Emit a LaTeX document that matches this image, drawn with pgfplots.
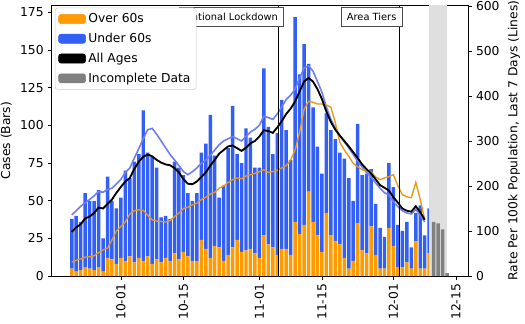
\documentclass[border=0pt]{standalone}
\usepackage{fontspec}
\setmainfont{DejaVu Sans}
\usepackage{pgfplots}
\usepackage{pgfplotstable}
\pgfplotsset{compat=1.18}

\definecolor{overc}{RGB}{255,155,0}
\definecolor{underc}{RGB}{50,95,245}
\definecolor{underl}{RGB}{112,124,240}
\definecolor{overl}{RGB}{232,152,20}
\definecolor{incc}{RGB}{128,128,128}

% daily cases: day 0 = 1 Oct
\pgfplotstableread{
d over under
-11 5 33
-10 3 37
-9 4 32
-8 6 49
-7 5 45
-6 4 46
-5 6 51
-4 3 22
-3 12 54
-2 11 39
-1 8 37
0 12 40
1 10 60
2 13 52
3 9 67
4 12 69
5 10 100
6 13 69
7 8 71
8 11 61
9 9 30
10 12 28
11 10 28
12 15 61
13 11 61
14 16 51
15 13 42
16 10 40
17 10 45
18 24 58
19 18 70
20 12 95
21 20 60
22 19 33
23 10 50
24 14 71
25 19 94
26 24 57
27 16 59
28 17 81
29 18 74
30 15 57
31 12 60
32 27 111
33 21 78
34 19 62
35 14 81
36 18 99
37 18 79
38 14 63
39 36 136
40 28 106
41 34 120
42 56 85
43 36 76
44 27 59
45 16 52
46 42 66
47 27 70
48 23 68
49 21 61
50 12 66
51 5 60
52 10 40
53 35 66
54 17 50
55 15 53
56 33 38
57 14 34
58 5 27
59 5 21
60 32 43
61 20 39
62 6 28
63 6 24
64 9 27
65 5 14
66 23 19
67 5 42
68 5 22
69 15 30
}\cases

\pgfplotstableread{
d inc
70 36
71 35
72 31
73 2
}\incomplete

% rate per 100k, last 7 days
\pgfplotstableread{
d under all over
-11 136 98 31
-10 145 108 35
-9 155 115 38
-8 163 128 42
-7 170 132 43
-6 178 140 45
-5 188 152 52
-4 186 150 58
-3 192 160 62
-2 195 170 80
-1 205 185 100
0 215 198 110
1 230 210 120
2 240 218 138
3 262 238 145
4 283 254 147
5 305 265 146
6 325 270 135
7 328 266 125
8 315 258 122
9 300 252 121
10 285 248 120
11 270 246 123
12 258 240 132
13 245 230 140
14 232 215 150
15 225 205 153
16 232 204 158
17 240 210 162
18 250 220 170
19 258 230 175
20 268 245 182
21 280 258 186
22 292 272 195
23 300 280 200
24 305 288 208
25 310 290 214
26 305 284 218
27 300 278 216
28 310 285 222
29 320 295 225
30 326 300 228
31 335 310 232
32 355 324 236
33 352 322 230
34 348 318 232
35 360 330 235
36 376 344 240
37 392 360 245
38 402 372 258
39 415 388 280
40 440 410 320
41 462 432 370
42 467 440 388
43 455 432 386
44 432 415 382
45 408 393 382
46 375 365 380
47 348 342 375
48 328 325 340
49 312 312 297
50 298 300 280
51 285 288 266
52 270 275 250
53 255 262 243
54 242 248 236
55 230 237 234
56 220 228 232
57 207 215 220
58 195 202 214
59 185 196 218
60 180 190 221
61 165 175 225
62 154 163 200
63 145 150 181
64 140 145 176
65 138 143 174
66 148 155 208
67 136 142 170
68 120 125 125
}\rates

\begin{document}
\begin{tikzpicture}
\pgfplotsset{
  every axis/.append style={
    scale only axis, width=338.5pt, height=220.3pt,
    xmin=-15.5, xmax=77.7,
    font=\fontsize{10}{12}\selectfont,
    /pgf/number format/assume math mode=true,
    tick align=outside, major tick length=3pt,
    tick style={black, line width=0.6pt},
    axis line style={line width=0.7pt},
  }
}
\begin{axis}[name=main, ybar stacked, bar width=0.78,
  ymin=0, ymax=180, ytick={0,25,...,175},
  xtick={0,14,31,45,61,75},
  xticklabels={10-01,10-15,11-01,11-15,12-01,12-15},
  xticklabel style={rotate=90, anchor=east},
  xtick pos=left, ytick pos=left,
  ylabel={Cases (Bars)}]
\fill[gray!25] (axis cs:68.9,0) rectangle (axis cs:73.1,180);
\addplot[fill=overc, draw=none] table[x=d, y=over] {\cases};
\addplot[fill=underc, draw=none] table[x=d, y=under] {\cases};
\end{axis}

\begin{axis}[hide axis, ybar, bar width=0.78, ymin=0, ymax=180]
\addplot[fill=incc, draw=none] table[x=d, y=inc] {\incomplete};
\end{axis}

\begin{axis}[ymin=0, ymax=602, ytick={0,100,...,600},
  axis y line*=right, axis x line=none,
  ylabel={Rate Per 100k Population, Last 7 Days (Lines)},
  legend cell align=left,
  legend style={at={(0.008,0.99)}, anchor=north west, draw=black!20,
    rounded corners=2pt, fill=white, inner sep=2.5pt, row sep=3pt,
    font=\fontsize{10}{12}\selectfont},
  ]
\addplot[underl, line width=1.3pt, forget plot] table[x=d, y=under] {\rates};
\addplot[overl, line width=1.1pt, forget plot] table[x=d, y=over] {\rates};
\addplot[black, line width=1.5pt, forget plot] table[x=d, y=all] {\rates};
\draw[black, line width=0.9pt] (axis cs:35.2,0) -- (axis cs:35.2,602);
\draw[black, line width=0.9pt] (axis cs:62.4,0) -- (axis cs:62.4,602);
\node[draw=black!70, fill=white, anchor=north east, inner xsep=4.5pt, inner ysep=4.5pt,
  font=\fontsize{8}{9.6}\selectfont] at ([xshift=4.5pt, yshift=-1.6pt] axis cs:35.2,602) {National Lockdown};
\node[draw=black!70, fill=white, anchor=north east, inner xsep=4.5pt, inner ysep=4.5pt,
  font=\fontsize{8}{9.6}\selectfont] at ([xshift=2pt, yshift=-1.6pt] axis cs:62.4,602) {Area Tiers};
\addlegendimage{legend image code/.code={\fill[overc] (0pt,-3.7pt) rectangle (22pt,3.7pt);}}
\addlegendentry{Over 60s}
\addlegendimage{legend image code/.code={\fill[underc] (0pt,-3.7pt) rectangle (22pt,3.7pt);}}
\addlegendentry{Under 60s}
\addlegendimage{legend image code/.code={\fill[black] (0pt,-3.7pt) rectangle (22pt,3.7pt);}}
\addlegendentry{All Ages}
\addlegendimage{legend image code/.code={\fill[incc] (0pt,-3.7pt) rectangle (22pt,3.7pt);}}
\addlegendentry{Incomplete Data}
\end{axis}
\pgfresetboundingbox
\path[use as bounding box] ([shift={(-42pt,-38.2pt)}]main.south west) rectangle ([shift={(46.3pt,4.1pt)}]main.north east);
\end{tikzpicture}
\end{document}
